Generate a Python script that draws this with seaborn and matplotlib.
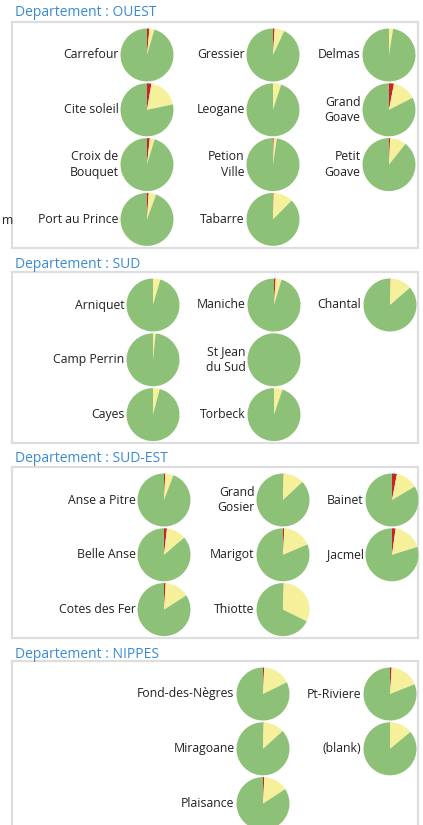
import matplotlib
matplotlib.use("Agg")
import matplotlib.pyplot as plt
import matplotlib.patches as mpatches
import seaborn as sns

# share of each commune: red / yellow slices (green is the rest), in percent
# names listed column by column, as they appear in each panel
ouest_names = ["Carrefour", "Cite soleil", "Croix de\nBouquet", "Port au Prince",
               "Gressier", "Leogane", "Petion\nVille", "Tabarre",
               "Delmas", "Grand\nGoave", "Petit\nGoave"]
ouest_red = [1.5, 2.7, 1.7, 1.0, 1.0, 0.0, 0.5, 0.4, 0.0, 3.0, 0.7]
ouest_yellow = [3.0, 19.0, 3.0, 4.6, 6.0, 5.0, 1.8, 12.0, 2.5, 14.5, 10.0]

sud_names = ["Arniquet", "Camp Perrin", "Cayes",
             "Maniche", "St Jean\ndu Sud", "Torbeck",
             "Chantal"]
sud_red = [0.0, 0.0, 0.0, 1.0, 0.0, 0.0, 0.3]
sud_yellow = [4.5, 1.6, 4.1, 3.6, 0.0, 5.2, 13.3]

sudest_names = ["Anse a Pitre", "Belle Anse", "Cotes des Fer",
                "Grand\nGosier", "Marigot", "Thiotte",
                "Bainet", "Jacmel"]
sudest_red = [0.8, 1.8, 1.0, 0.3, 0.8, 0.3, 3.0, 2.2]
sudest_yellow = [5.0, 12.0, 15.0, 12.7, 17.8, 32.0, 13.5, 18.0]

nippes_names = ["Fond-des-Nègres", "Miragoane", "Plaisance",
                "Pt-Riviere", "(blank)"]
nippes_red = [0.7, 0.3, 0.8, 1.0, 0.0]
nippes_yellow = [17.0, 13.0, 15.0, 18.0, 14.0]

departements = ["OUEST", "SUD", "SUD-EST", "NIPPES"]

sns.set_theme(style="white")
plt.rcParams["font.family"] = ["Open Sans", "DejaVu Sans"]

pie_colors = ["#c8232b", "#f6f09b", "#8ec178"]
title_color = "#3a8ad2"
border_color = "#dedede"

W, H = 423, 825
fig = plt.figure(figsize=(W / 100, H / 100), dpi=100)
ax = fig.add_axes([0, 0, 1, 1])

# layout per panel: top of box, bottom of box, title y, rows, column centres
panels = [
    (ouest_names, ouest_red, ouest_yellow, 22, 248, 12, 4, [147, 273, 389]),
    (sud_names, sud_red, sud_yellow, 272, 443, 264, 3, [153, 274, 390]),
    (sudest_names, sudest_red, sudest_yellow, 467, 638, 459, 3, [164, 283, 392]),
    (nippes_names, nippes_red, nippes_yellow, 661, 840, 654, 3, [263, 390]),
]

radius = 26.5
row_gap = 54.8

for dep, (names, red, yellow, top, bottom, ty, nrows, xcols) in zip(departements, panels):
    ax.text(15, H - ty, f"Departement : {dep}", color=title_color,
            fontsize=10, ha="left", va="center")
    ax.add_patch(mpatches.Rectangle((12, H - bottom), 406, bottom - top,
                                    fill=False, edgecolor=border_color, lw=1.6))
    for i, name in enumerate(names):
        col, row = divmod(i, nrows)
        cx = xcols[col]
        cy = H - (top + 33 + row * row_gap)
        green = 100 - red[i] - yellow[i]
        ax.pie([red[i], yellow[i], green], colors=pie_colors, startangle=90,
               counterclock=False, center=(cx, cy), radius=radius,
               wedgeprops=dict(linewidth=0))
        ax.text(cx - radius - 2, cy, name, ha="right", va="center",
                fontsize=8.8, color="#222222", linespacing=1.25)

# stray label at the left edge
ax.text(1.5, H - 220, "m", ha="left", va="center", fontsize=8.8, color="#222222")

ax.set_xlim(0, W)
ax.set_ylim(0, H)
ax.set_aspect("equal")
ax.axis("off")

fig.savefig("out.png", dpi=100)
